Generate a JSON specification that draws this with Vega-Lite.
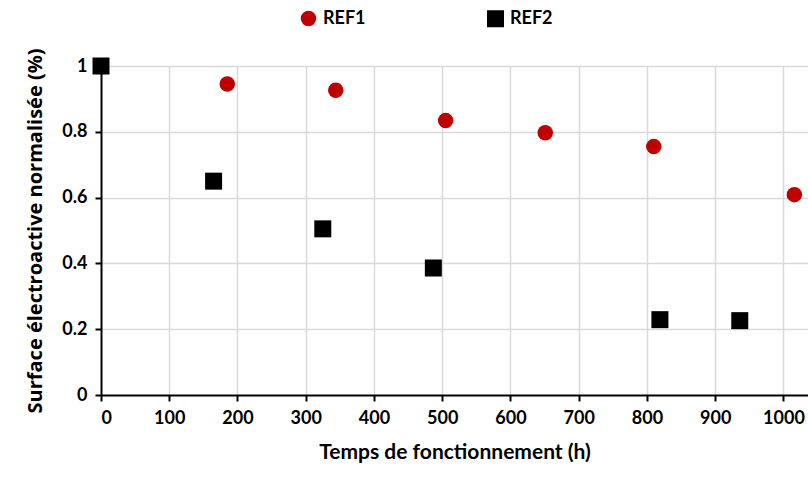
{
  "$schema": "https://vega.github.io/schema/vega-lite/v6.json",
  "width": 707,
  "height": 329,
  "autosize": {"type": "none"},
  "padding": {"left": 101, "top": 66, "right": 0, "bottom": 87},
  "background": "white",
  "config": {
    "view": {"stroke": null}
  },
  "data": {
    "values": [
      {"t": 0, "s": 1.0, "serie": "REF1"},
      {"t": 185, "s": 0.945, "serie": "REF1"},
      {"t": 344, "s": 0.926, "serie": "REF1"},
      {"t": 505, "s": 0.834, "serie": "REF1"},
      {"t": 651, "s": 0.797, "serie": "REF1"},
      {"t": 810, "s": 0.755, "serie": "REF1"},
      {"t": 1016, "s": 0.609, "serie": "REF1"},
      {"t": 0, "s": 1.0, "serie": "REF2"},
      {"t": 165, "s": 0.65, "serie": "REF2"},
      {"t": 325, "s": 0.505, "serie": "REF2"},
      {"t": 487, "s": 0.386, "serie": "REF2"},
      {"t": 819, "s": 0.229, "serie": "REF2"},
      {"t": 936, "s": 0.226, "serie": "REF2"}
    ]
  },
  "mark": {"type": "point", "filled": true, "opacity": 1, "clip": false},
  "encoding": {
    "x": {
      "field": "t", "type": "quantitative",
      "scale": {"domain": [0, 1036], "nice": false, "zero": true},
      "axis": {
        "values": [0, 100, 200, 300, 400, 500, 600, 700, 800, 900, 1000],
        "format": "d",
        "title": "Temps de fonctionnement (h)",
        "titleFont": "Lato", "titleFontSize": 21, "titleFontWeight": "bold", "titleColor": "black",
        "titlePadding": 14,
        "labelFont": "Lato", "labelFontSize": 18, "labelFontWeight": "bold", "labelColor": "black",
        "labelPadding": 8,
        "domain": true, "ticks": true,
        "domainColor": "#000000", "domainWidth": 2,
        "tickColor": "#000000", "tickWidth": 2, "tickSize": 6,
        "grid": true, "gridWidth": 1.5,
        "gridColor": {"condition": {"test": "datum.value === 0", "value": "transparent"}, "value": "#d9d9d9"}
      }
    },
    "y": {
      "field": "s", "type": "quantitative",
      "scale": {"domain": [0, 1], "nice": false},
      "axis": {
        "values": [0, 0.2, 0.4, 0.6, 0.8, 1],
        "format": ".1~f",
        "title": "Surface électroactive normalisée (%)",
        "titleFont": "Open Sans", "titleFontSize": 20, "titleFontWeight": "bold", "titleColor": "black",
        "titlePadding": 16,
        "labelFont": "Lato", "labelFontSize": 18, "labelFontWeight": "bold", "labelColor": "black",
        "labelPadding": 8,
        "domain": true, "ticks": true,
        "domainColor": "#000000", "domainWidth": 2,
        "tickColor": "#000000", "tickWidth": 2, "tickSize": 6,
        "grid": true, "gridWidth": 1.5,
        "gridColor": {"condition": {"test": "datum.value === 0", "value": "transparent"}, "value": "#d9d9d9"}
      }
    },
    "color": {
      "field": "serie", "type": "nominal",
      "scale": {"domain": ["REF1", "REF2"], "range": ["#c00000", "#000000"]},
      "legend": {
        "title": null,
        "orient": "none",
        "legendX": 198,
        "legendY": -57,
        "direction": "horizontal",
        "columns": 2,
        "columnPadding": 120,
        "labelFont": "Lato", "labelFontSize": 18, "labelFontWeight": "bold", "labelColor": "black",
        "labelOffset": 5,
        "symbolSize": 200
      }
    },
    "shape": {
      "field": "serie", "type": "nominal",
      "scale": {"domain": ["REF1", "REF2"], "range": ["circle", "square"]}
    },
    "size": {
      "field": "serie", "type": "nominal",
      "scale": {"domain": ["REF1", "REF2"], "range": [240, 289]},
      "legend": null
    }
  }
}
